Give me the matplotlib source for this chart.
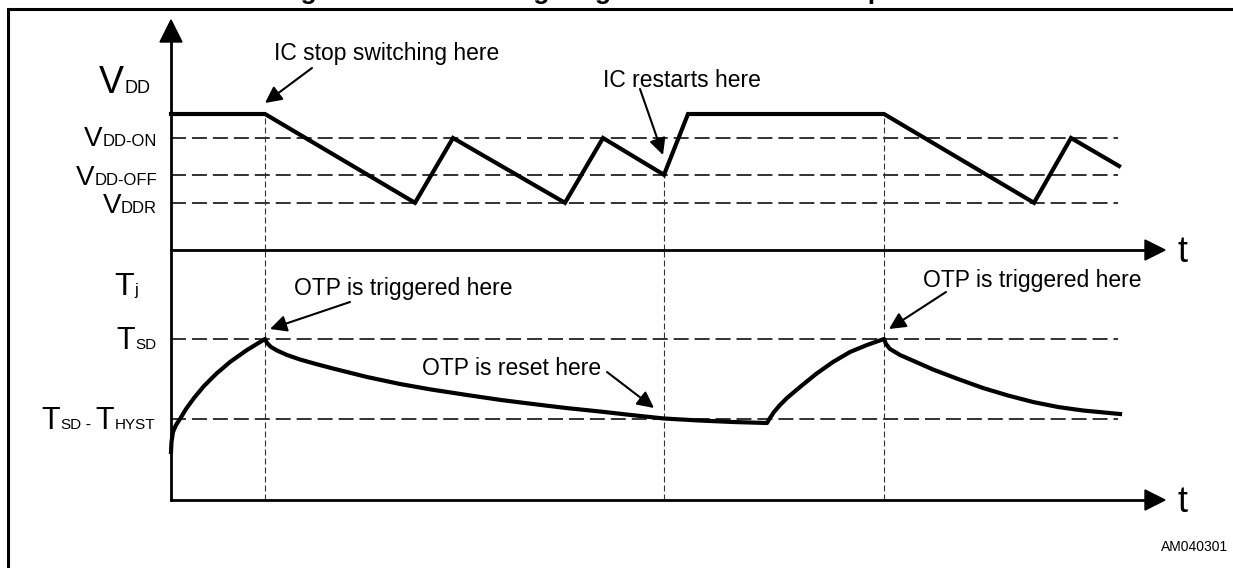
import matplotlib
matplotlib.use('Agg')
import matplotlib.pyplot as plt
from matplotlib.patches import Polygon

plt.rcParams['font.family'] = ['Liberation Sans', 'DejaVu Sans']

# --- data (time in arbitrary units, VDD in volts, Tj in arbitrary degrees) ---
vdd_t = [0, 9.4, 24.4, 28.2, 39.4, 43.2, 49.3, 51.7, 71.3, 86.3, 90.0, 94.8]
vdd_v = [17.0, 17.0, 5.9, 14.0, 5.9, 14.0, 9.4, 17.0, 17.0, 5.9, 14.0, 10.5]

VDD_HIGH = 17.0
VDD_ON = 14.0
VDD_OFF = 9.4
VDDR = 5.9

tj_t = [0, 0.05, 0.2, 0.5, 0.9, 1.5, 2.3, 3.3, 4.5, 5.9, 7.6, 9.4,
        9.6, 10.0, 10.6, 11.6, 12.9, 14.5, 16.2, 19.6, 22.9, 26.0, 29.6, 33.0, 36.2, 39.5,
        42.9, 46.0, 49.3, 52.8, 56.2, 59.6,
        59.9, 60.3, 60.9, 61.6, 62.9, 64.5, 66.2, 67.9, 69.6, 71.3,
        71.5, 71.9, 72.9, 74.5, 76.2, 78.7, 81.2, 83.7, 86.2, 88.7, 91.2, 94.9]
tj_v = [48, 58, 68, 75, 81, 91, 102, 114, 126, 138, 150, 161,
        157, 153, 149.5, 145, 140.5, 136, 131.5, 123, 116, 110.5, 105, 100, 96, 92,
        88.5, 85, 81.5, 79.5, 78, 77,
        82, 88, 95, 102, 113, 126, 138, 148, 155, 161,
        156, 151, 145, 138, 130.5, 121, 112, 104.5, 98, 93, 89.5, 86]

T_SD = 161
T_HYST = 80

t_stop = 9.4
t_restart = 49.3
t_otp = 71.3
t_end = 94.7

W, H = 1233, 568
fig = plt.figure(figsize=(W / 100, H / 100), dpi=100)


def px_axes(x0, y_top, x1, y_bot):
    return fig.add_axes([x0 / W, 1 - y_bot / H, (x1 - x0) / W, (y_bot - y_top) / H])


ax_v = px_axes(171, 0, 1171, 250)
ax_v.set_xlim(0, 100)
ax_v.set_ylim(0, 250 / 8)
ax_v.axis('off')

ax_t = px_axes(171, 250, 1171, 500)
ax_t.set_xlim(0, 100)
ax_t.set_ylim(0, 250)
ax_t.axis('off')

hdash = dict(color='#222222', lw=1.3, linestyle=(0, (8.3, 3.3)))
vdash = dict(color='#333333', lw=0.8, linestyle=(0, (5.4, 2.7)))

# threshold levels
for lev in [VDD_ON, VDD_OFF, VDDR]:
    ax_v.hlines(lev, 0, t_end, **hdash)
for lev in [T_SD, T_SD - T_HYST]:
    ax_t.hlines(lev, 0, t_end, **hdash)

# event markers
ax_v.vlines(t_stop, 0, VDD_HIGH, clip_on=False, **vdash)
ax_v.vlines(t_restart, 0, VDD_OFF, clip_on=False, **vdash)
ax_v.vlines(t_otp, 0, VDD_HIGH, clip_on=False, **vdash)
for tt in [t_stop, t_restart, t_otp]:
    ax_t.vlines(tt, 0, 250, clip_on=False, **vdash)

ax_v.plot(vdd_t, vdd_v, color='black', lw=3, solid_joinstyle='miter', clip_on=False)
ax_t.plot(tj_t, tj_v, color='black', lw=3, solid_joinstyle='round', clip_on=False)

# --- overlay in pixel coordinates for frame, axes and text ---
ax = fig.add_axes([0, 0, 1, 1])
ax.set_xlim(0, W)
ax.set_ylim(H, 0)
ax.axis('off')

ax.plot([7.5, 7.5, W], [H, 8.7, 8.7], color='black', lw=2.2, solid_joinstyle='miter')

ax.plot([171, 171], [500, 40], color='black', lw=2)
ax.add_patch(Polygon([(160, 42), (182, 42), (171, 20)], closed=True, color='black'))
for ya in [250, 500]:
    ax.plot([171, 1147], [ya, ya], color='black', lw=2)
    ax.add_patch(Polygon([(1145, ya - 10), (1145, ya + 10), (1165, ya)], closed=True, color='black'))
    ax.text(1178, ya + 12, 't', fontsize=26, ha='left', va='baseline')

renderer = fig.canvas.get_renderer()


def compose(parts, x_right, y_base):
    x = x_right
    for s, size in reversed(parts):
        txt = ax.text(x, y_base, s, fontsize=size, ha='right', va='baseline')
        bb = txt.get_window_extent(renderer)
        x = ax.transData.inverted().transform((bb.x0, bb.y0))[0]


compose([('V', 27), ('DD', 13)], 150, 93)
compose([('V', 20), ('DD-ON', 12)], 157, 146)
compose([('V', 20), ('DD-OFF', 12)], 157, 185)
compose([('V', 20), ('DDR', 12)], 157, 213)
compose([('T', 23), ('j', 12)], 138, 295)
compose([('T', 22), ('SD', 11)], 156, 349)
compose([('T', 22), ('SD', 11), (' - ', 12), ('T', 22), ('HYST', 11)], 155, 429)

notes = [
    ('IC stop switching here', 274, 60, (312, 68), (265, 103)),
    ('IC restarts here', 603, 87, (640, 89), (663, 155)),
    ('OTP is triggered here', 294, 295, (350, 302), (270, 329)),
    ('OTP is reset here', 422, 375, (607, 372), (654, 408)),
    ('OTP is triggered here', 923, 287, (946, 292), (889, 329)),
]
for label, tx, ty, tail, tip in notes:
    ax.text(tx, ty, label, fontsize=16.5, ha='left', va='baseline')
    ax.annotate('', xy=tip, xytext=tail,
                arrowprops=dict(arrowstyle='-|>', lw=1.5, color='black',
                                mutation_scale=25, shrinkA=0, shrinkB=0))

# caption of the page, cut off by the top edge as in the source
ax.text(277, -1.5, 'Figure 15. OTP timing diagram in auto-restart operation',
        fontsize=19, fontweight='bold', ha='left', va='baseline')
ax.text(1228, 551, 'AM040301', fontsize=10, ha='right', va='baseline',
        family=['Liberation Sans Narrow', 'Liberation Sans'])

fig.savefig('out.png', dpi=100)
